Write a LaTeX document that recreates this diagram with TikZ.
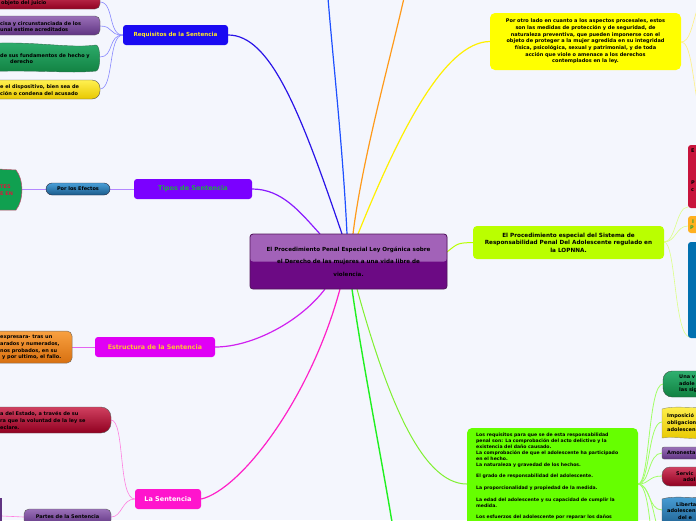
\documentclass[tikz,border=0pt]{standalone}
\usepackage{fontspec}
\setmainfont{DejaVu Sans}
\definecolor{bg}{RGB}{244,246,253}
\definecolor{centop}{RGB}{162,98,184}
\definecolor{cenbot}{RGB}{108,10,132}
\definecolor{cenborder}{RGB}{80,20,90}
\definecolor{reqfill}{RGB}{26,10,242}
\definecolor{reqtext}{RGB}{255,230,40}
\definecolor{tipfill}{RGB}{123,0,255}
\definecolor{tiptext}{RGB}{30,170,70}
\definecolor{estfill}{RGB}{224,0,245}
\definecolor{esttext}{RGB}{255,195,50}
\definecolor{lasfill}{RGB}{255,20,205}
\definecolor{porfill}{RGB}{255,255,0}
\definecolor{profill}{RGB}{186,255,0}
\definecolor{lrfill}{RGB}{102,255,0}
\definecolor{cReq}{RGB}{42,20,232}
\definecolor{cBlue}{RGB}{30,80,255}
\definecolor{cOrange}{RGB}{255,154,26}
\definecolor{cYellow}{RGB}{255,240,0}
\definecolor{cTip}{RGB}{138,26,255}
\definecolor{cEst}{RGB}{208,32,240}
\definecolor{cLas}{RGB}{255,32,200}
\definecolor{cGreen}{RGB}{32,240,32}
\definecolor{cLgreen}{RGB}{128,240,48}
\definecolor{cYg}{RGB}{184,255,0}
\definecolor{sReq}{RGB}{136,136,255}
\definecolor{sTip}{RGB}{180,136,255}
\definecolor{sEst}{RGB}{228,100,240}
\definecolor{sLas}{RGB}{255,128,224}
\definecolor{sPor}{RGB}{255,240,128}
\definecolor{sPro}{RGB}{220,255,136}
\definecolor{sLr}{RGB}{160,255,100}
\definecolor{redtop}{RGB}{208,64,96}
\definecolor{redbot}{RGB}{144,0,32}
\definecolor{purtop}{RGB}{154,112,184}
\definecolor{purbot}{RGB}{96,52,130}
\definecolor{grntop}{RGB}{48,176,112}
\definecolor{grnbot}{RGB}{16,128,64}
\definecolor{yeltop}{RGB}{255,240,80}
\definecolor{yelbot}{RGB}{232,200,0}
\definecolor{oratop}{RGB}{248,160,64}
\definecolor{orabot}{RGB}{216,112,16}
\definecolor{blutop}{RGB}{74,160,216}
\definecolor{blubot}{RGB}{26,90,138}
\definecolor{edge}{RGB}{90,90,90}
\definecolor{grnedge}{RGB}{50,110,80}
\definecolor{grnedgeb}{RGB}{50,80,60}
\definecolor{pillborder}{RGB}{40,40,60}
\definecolor{tgfill}{RGB}{16,160,80}
\definecolor{tgborder}{RGB}{190,80,110}
\definecolor{tgtext}{RGB}{210,30,60}
\definecolor{oraedge}{RGB}{128,112,96}
\definecolor{crimson}{RGB}{200,20,60}
\definecolor{orR}{RGB}{255,176,32}
\definecolor{orRtext}{RGB}{40,160,60}
\definecolor{bluR}{RGB}{0,112,176}
\definecolor{yeledge}{RGB}{150,150,110}
\pgfdeclarelayer{bgl}
\pgfsetlayers{bgl,main}
\tikzset{
  mainbox/.style={rounded corners=3pt, inner sep=0pt, align=center},
  lbl/.style={inner sep=0pt, anchor=west, align=left, font=\bfseries\fontsize{5}{6.6}\selectfont},
  conn/.style={line width=1.2pt},
  subc/.style={line width=0.6pt},
}
\begin{document}
\begin{tikzpicture}[x=1pt,y=-1pt]
\useasboundingbox (0,0) rectangle (696,520);
\begin{scope}
\clip (0,0) rectangle (696,520);

% ---------- central node ----------
\node[mainbox, draw=cenborder, line width=0.8pt, fill=cenbot,
  minimum width=197pt, minimum height=55pt,
  path picture={\fill[centop] (path picture bounding box.north west) rectangle (path picture bounding box.east);},
  font=\bfseries\fontsize{5.6}{12.5}\selectfont] (cen) at (348.5,261.5)
  {El Procedimiento Penal Especial Ley Orgánica sobre\\el Derecho de las mujeres a una vida libre de\\violencia.};

\coordinate (cA) at (342,234);
\coordinate (cB) at (347,234);
\coordinate (cC) at (353,234);
\coordinate (cD) at (358,234);
\coordinate (cE) at (320,234);
\coordinate (cF) at (325,289);
\coordinate (cG) at (340,289);
\coordinate (cH) at (352,289);
\coordinate (cI) at (357,289);
\coordinate (cJ) at (447,252);
\coordinate (topB) at (328,-2);
\coordinate (topC) at (404,-2);
\coordinate (botH) at (392,522);

% ---------- main branch nodes ----------
\node[mainbox, fill=reqfill, minimum width=105pt, minimum height=20pt, text=reqtext,
  font=\bfseries\fontsize{5.6}{7}\selectfont] (req) at (175.5,35) {Requisitos de la Sentencia};
\node[mainbox, fill=tipfill, minimum width=118pt, minimum height=20pt, text=tiptext,
  font=\bfseries\fontsize{6.5}{7}\selectfont] (tip) at (193,189) {Tipos de Sentencia};
\node[mainbox, fill=estfill, minimum width=120pt, minimum height=20pt, text=esttext,
  font=\bfseries\fontsize{6.3}{7}\selectfont] (est) at (155,347) {Estructura de la Sentencia};
\node[mainbox, fill=lasfill, minimum width=66pt, minimum height=20pt, text=white,
  font=\bfseries\fontsize{6.5}{7}\selectfont] (las) at (168,499) {La Sentencia};
\node[mainbox, rounded corners=5pt, fill=porfill, minimum width=191pt, minimum height=57pt,
  font=\bfseries\fontsize{5}{6.65}\selectfont] (por) at (585.5,41.5)
  {Por otro lado en cuanto a los aspectos procesales, estos\\son las medidas de protección y de seguridad, de\\naturaleza preventiva, que pueden imponerse con el\\objeto de proteger a la mujer agredida en su integridad\\física, psicológica, sexual y patrimonial, y de toda\\acción que viole o amenace a los derechos\\contemplados en la ley.};
\node[mainbox, rounded corners=4pt, fill=profill, minimum width=191pt, minimum height=33pt,
  font=\bfseries\fontsize{5.7}{7.5}\selectfont] (pro) at (568.5,242.5)
  {El Procedimiento especial del Sistema de\\Responsabilidad Penal Del Adolescente regulado en\\la LOPNNA.};
\node[mainbox, rounded corners=5pt, fill=lrfill, minimum width=171pt, minimum height=112pt] (lr) at (552.5,484) {};
\node[inner sep=0pt, anchor=north west, align=left, font=\bfseries\fontsize{4.6}{6}\selectfont] (lrtext) at (476,432.5)
  {Los requisitos para que se de esta responsabilidad\\penal son: La comprobación del acto delictivo y la\\existencia del daño causado.\\La comprobación de que el adolescente ha participado\\en el hecho.\\La naturaleza y gravedad de los hechos.\\[5.6pt]El grado de responsabilidad del adolescente.\\[5.6pt]La proporcionalidad y propiedad de la medida.\\[5.6pt]La edad del adolescente y su capacidad de cumplir la\\medida.\\[5.6pt]Los esfuerzos del adolescente por reparar los daños};

% ---------- children of Requisitos ----------
\shade[top color=redtop, bottom color=redbot, draw=edge, line width=0.4pt, rounded corners=5pt] (-20,-8) rectangle (100,9);
\node[lbl] (ra) at (1,3) {objeto del juicio};
\coordinate (ra-e) at (100,2);
\shade[top color=purtop, bottom color=purbot, draw=edge, line width=0.4pt, rounded corners=5pt] (-20,16) rectangle (100,35);
\node[lbl] (rb) at (0,26.5) {cisa y circunstanciada de los\\unal estime acreditados};
\coordinate (rb-e) at (100,26);
\shade[top color=grntop, bottom color=grnbot, draw=grnedge, line width=0.4pt]
  (-20,44) .. controls (30,40) and (70,49) .. (96,45) .. controls (101,45) and (101,71) .. (96,71)
  .. controls (70,74) and (30,69) .. (-20,72) -- cycle;
\node[lbl] (rc) at (0,58.5) {de sus fundamentos de hecho y\\\hspace*{10pt}derecho};
\coordinate (rc-e) at (100,57);
\shade[top color=yeltop, bottom color=yelbot, draw=edge, line width=0.4pt, rounded corners=8pt] (-20,80) rectangle (100,99);
\node[lbl] (rd) at (0,90) {e el dispositivo, bien sea de\\ción o condena del acusado};
\coordinate (rd-e) at (100,89);

% ---------- children of Tipos ----------
\node[mainbox, rounded corners=6pt, top color=blutop, bottom color=blubot, draw=pillborder, line width=0.4pt,
  minimum width=64pt, minimum height=12pt, font=\bfseries\fontsize{5}{6}\selectfont] (efe) at (78,189) {Por los Efectos};
\fill[tgfill, draw=tgborder, line width=0.5pt]
  (-20,168) -- (16,170) .. controls (24,180) and (24,200) .. (16,210) -- (-20,210) -- cycle;
\node[lbl, text=tgtext] (tg) at (0,190) {TES\\E EN};
\coordinate (tg-e) at (22,189);

% ---------- child of Estructura ----------
\shade[top color=oratop, bottom color=orabot, draw=oraedge, line width=0.5pt, rounded corners=5pt] (-20,331) rectangle (72,363);
\node[lbl, font=\bfseries\fontsize{5}{6.8}\selectfont] (eo) at (0,347.5) {expresara- tras un\\arados y numerados,\\nos probados, en su\\\hspace*{2pt}y por ultimo, el fallo.};
\coordinate (eo-e) at (72,347);

% ---------- children of La Sentencia ----------
\shade[top color=redtop, bottom color=redbot, draw=edge, line width=0.4pt, rounded corners=10pt] (-20,407) rectangle (111,433);
\node[lbl] (lsr) at (0,420.5) {a del Estado, a través de su\\ra que la voluntad de la ley se\\eclare.};
\coordinate (lsr-e) at (111,420);
\node[mainbox, rounded corners=5pt, top color=purtop, bottom color=purbot, draw=edge, line width=0.4pt,
  minimum width=87pt, minimum height=16pt, font=\bfseries\fontsize{5}{6}\selectfont] (par) at (67.5,517) {Partes de la Sentencia};
\fill[purbot] (-10,498) rectangle (2,525);
\coordinate (sliver) at (2,516);

% ---------- right side children of El Procedimiento ----------
\fill[crimson, rounded corners=3pt] (688,145) rectangle (710,208);
\node[lbl] (pe1) at (691,151) {E};
\node[lbl] (pe2) at (691,186) {P\\c};
\coordinate (pr1) at (688,207);
\fill[orR, rounded corners=3pt] (688,216) rectangle (710,233);
\node[lbl, text=orRtext] (po1) at (690,224.5) {\hspace*{2pt}I\\P};
\coordinate (pr2) at (688,226);
\fill[bluR, rounded corners=3pt] (688,242) rectangle (710,338);
\coordinate (pr3) at (690,337);

% ---------- right side children of Los requisitos ----------
\shade[top color=grntop, bottom color=grnbot, draw=grnedgeb, line width=0.4pt, rounded corners=9pt] (663,371) rectangle (712,397);
\node[lbl] (g1) at (679,384) {Una v\\adole\\las sig};
\coordinate (lr1) at (663,384);
\shade[top color=yeltop, bottom color=yelbot, draw=yeledge, line width=0.4pt]
  (662,409) .. controls (675,405) and (690,409) .. (712,407) -- (712,438) .. controls (690,440) and (675,436) .. (662,438) -- cycle;
\node[lbl] (g2) at (667,422.5) {Imposició\\obligacion\\adolescen};
\coordinate (lr2) at (662,422);
\shade[top color=purtop, bottom color=purbot, draw=edge, line width=0.4pt, rounded corners=2pt] (662,447) rectangle (712,459);
\node[lbl] (g3) at (667,453) {Amonesta};
\coordinate (lr3) at (662,453);
\shade[top color=redtop, bottom color=redbot, draw=edge, line width=0.4pt, rounded corners=8pt] (662,467) rectangle (712,486);
\node[lbl] (g4) at (676,476.5) {Servic\\\hspace*{7pt}adol};
\coordinate (lr4) at (662,476);
\shade[top color=blutop, bottom color=blubot, draw=edge, line width=0.4pt]
  (662,499) .. controls (675,495) and (690,499) .. (712,497) -- (712,530) -- (662,530) -- cycle;
\node[lbl, font=\bfseries\fontsize{5}{6.4}\selectfont] (g5) at (667,511) {\hspace*{9pt}Liberta\\adolescen\\\hspace*{11pt}del e};
\coordinate (lr5) at (662,510);
\coordinate (lr6) at (656,522);
\coordinate (lr7) at (650,522);
\coordinate (lrE) at (638,484);
\coordinate (proE) at (664,242);
\coordinate (porE) at (681,42);
\coordinate (porU) at (697,10);
\coordinate (porD) at (697,100);
\end{scope}

% ---------- connectors ----------
\begin{pgfonlayer}{bgl}
\fill[bg] (0,0) rectangle (696,520);
\begin{scope}
\clip (0,0) rectangle (696,520);
\draw[conn, cReq] (cA) .. controls (300,110) and (270,35) .. (req.east);
\draw[conn, cBlue] (cB) .. controls (343,150) and (333,60) .. (topB);
\draw[conn, cOrange] (cC) .. controls (362,160) and (390,60) .. (topC);
\draw[conn, cYellow] (cD) .. controls (400,130) and (445,42) .. (por.west);
\draw[conn, cTip] (cE) .. controls (300,212) and (282,189) .. (tip.east);
\draw[conn, cEst] (cF) .. controls (300,322) and (252,347) .. (est.east);
\draw[conn, cLas] (cG) .. controls (310,400) and (240,490) .. (las.east);
\draw[conn, cGreen, line width=1.4pt] (cH) .. controls (362,360) and (380,450) .. (botH);
\draw[conn, cLgreen, line width=1pt] (cI) .. controls (385,390) and (420,484) .. (lr.west);
\draw[conn, cYg, line width=1pt] (cJ) .. controls (458,243) .. (pro.west);

\foreach \t in {ra-e,rb-e,rc-e,rd-e}
  \draw[subc, sReq] (req.west) .. controls (108,35) and (114,0|-\t) .. (\t);
\draw[subc, sTip] (tip.west) -- (efe.east);
\draw[subc, sTip] (efe.west) -- (tg-e);
\draw[subc, sEst] (est.west) -- (eo-e);
\draw[subc, sLas] (las.west) .. controls (118,499) and (125,420) .. (lsr-e);
\draw[subc, sLas] (las.west) .. controls (122,499) and (122,517) .. (par.east);
\draw[subc, sLas] (par.west) -- (sliver);
\draw[subc, sPor] (porE) .. controls (690,42) and (692,25) .. (porU);
\draw[subc, sPor] (porE) .. controls (690,42) and (692,70) .. (porD);
\draw[subc, sPro] (proE) .. controls (676,242) and (676,207) .. (pr1);
\draw[subc, sPro] (proE) .. controls (676,242) and (676,226) .. (pr2);
\draw[subc, sPro] (proE) .. controls (676,242) and (674,337) .. (pr3);
\foreach \t in {lr1,lr2,lr3,lr4,lr5}
  \draw[subc, sLr, line width=0.8pt] (lrE) .. controls (650,484) and (648,0|-\t) .. (\t);
\draw[subc, sLr, line width=0.8pt] (lrE) .. controls (648,484) and (652,505) .. (lr6);
\draw[subc, sLr, line width=0.8pt] (lrE) .. controls (645,484) and (648,505) .. (lr7);
\end{scope}
\end{pgfonlayer}
\end{tikzpicture}
\end{document}
